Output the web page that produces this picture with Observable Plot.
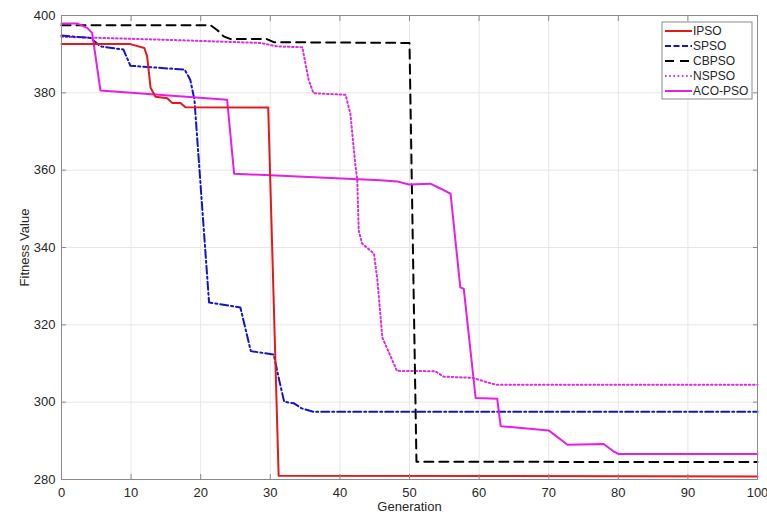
<!DOCTYPE html>
<html>
<head>
<meta charset="utf-8">
<script src="https://cdn.jsdelivr.net/npm/d3@7"></script>
<script src="https://cdn.jsdelivr.net/npm/@observablehq/plot@0.6"></script>
<style>
  html, body { margin: 0; padding: 0; background: #fff; }
  #chart { position: relative; width: 767px; height: 519px; }
</style>
</head>
<body>
<div id="chart"></div>
<script>
// ---- data ----
const seriesNames = ["IPSO", "SPSO", "CBPSO", "NSPSO", "ACO-PSO"];
const xTicks = [0, 10, 20, 30, 40, 50, 60, 70, 80, 90, 100];
const yTicks = [280, 300, 320, 340, 360, 380, 400];

const ipsoGen = [0, 9.9, 11.9, 12.3, 12.8, 13.5, 15.2, 15.9, 17.1, 17.8, 29.7, 31.2, 100];
const ipsoFit = [392.6, 392.6, 391.6, 389.5, 381.3, 379.0, 378.6, 377.4, 377.4, 376.3, 376.2, 281.0, 280.8];

const spsoGen = [0, 4.2, 5.6, 8.9, 9.9, 17.7, 18.5, 19.1, 21.2, 25.7, 27.2, 30.5, 31.3, 32.0, 33.4, 34.5, 36.2, 100];
const spsoFit = [394.8, 394.2, 392.0, 391.2, 387.0, 386.0, 383.4, 378.2, 325.8, 324.5, 313.2, 312.3, 305.5, 300.1, 299.7, 298.4, 297.5, 297.5];

const cbpsoGen = [0, 21.4, 22.4, 23.3, 24.3, 29.5, 30.5, 50.0, 51.0, 100];
const cbpsoFit = [397.5, 397.5, 396.2, 394.6, 393.9, 393.9, 393.1, 392.9, 284.6, 284.5];

const nspsoGen = [0, 17.1, 28.6, 31.0, 34.6, 35.5, 36.2, 40.8, 41.5, 42.2, 42.5, 42.7, 43.2, 44.9, 45.4, 46.1, 48.2, 53.7, 54.9, 59.0, 62.4, 100];
const nspsoFit = [394.5, 393.6, 392.9, 392.0, 391.8, 383.4, 379.9, 379.5, 374.7, 361.7, 357.4, 344.4, 341.0, 338.4, 331.4, 316.7, 308.1, 308.0, 306.6, 306.3, 304.5, 304.5];

const acoGen = [0, 2.3, 3.7, 4.4, 5.6, 23.8, 24.8, 45.8, 48.2, 49.9, 53.0, 54.5, 55.9, 57.3, 57.8, 59.5, 62.6, 63.1, 70.0, 72.7, 77.9, 79.3, 80, 100];
const acoFit = [397.9, 397.9, 396.8, 395.5, 380.6, 378.2, 359.1, 357.4, 357.1, 356.3, 356.5, 355.2, 353.9, 329.7, 329.3, 301.1, 300.9, 293.8, 292.7, 289.0, 289.2, 287.3, 286.6, 286.6];

// ---- styles ----
const styles = {
  "IPSO":    {stroke: "#e3191c", dash: null, width: 2},
  "SPSO":    {stroke: "#1414c8", dash: "8,3,2,3", width: 2},
  "CBPSO":   {stroke: "#000000", dash: "9,6", width: 2},
  "NSPSO":   {stroke: "#dc2edc", dash: "1.6,2.6", width: 2},
  "ACO-PSO": {stroke: "#e61ee6", dash: null, width: 2}
};

const seriesData = {
  "IPSO": ipsoGen.map((g, i) => ({gen: g, fit: ipsoFit[i]})),
  "SPSO": spsoGen.map((g, i) => ({gen: g, fit: spsoFit[i]})),
  "CBPSO": cbpsoGen.map((g, i) => ({gen: g, fit: cbpsoFit[i]})),
  "NSPSO": nspsoGen.map((g, i) => ({gen: g, fit: nspsoFit[i]})),
  "ACO-PSO": acoGen.map((g, i) => ({gen: g, fit: acoFit[i]}))
};

const drawOrder = ["NSPSO", "CBPSO", "SPSO", "ACO-PSO", "IPSO"];
const lineMarks = drawOrder.map(name => Plot.line(seriesData[name], {
  x: "gen", y: "fit",
  stroke: styles[name].stroke,
  strokeWidth: styles[name].width,
  strokeDasharray: styles[name].dash,
  strokeLinejoin: "round"
}));

const W = 767, H = 519;
const mL = 61, mR = 10, mT = 15, mB = 40;

const chart = Plot.plot({
  width: W, height: H,
  marginLeft: mL, marginRight: mR, marginTop: mT, marginBottom: mB,
  style: {fontFamily: "'Liberation Sans', Arial, sans-serif", fontSize: "13px", color: "#262626", background: "#fff"},
  x: {domain: [0, 100]},
  y: {domain: [280, 400]},
  marks: [
    Plot.gridX(xTicks, {stroke: "#e6e6e6", strokeOpacity: 1}),
    Plot.gridY(yTicks, {stroke: "#e6e6e6", strokeOpacity: 1}),
    ...lineMarks,
    Plot.frame({stroke: "#8a8a8a", strokeWidth: 1}),
    Plot.axisX(xTicks, {anchor: "bottom", tickSize: -5, tickPadding: 13, stroke: "#8a8a8a",
      label: "Generation", labelAnchor: "center", labelOffset: 31, labelArrow: "none", fontSize: 13}),
    Plot.axisX(xTicks, {anchor: "top", tickSize: -5, tickFormat: () => "", label: null, stroke: "#8a8a8a"}),
    Plot.axisY(yTicks, {anchor: "left", tickSize: -5, tickPadding: 11, stroke: "#8a8a8a",
      label: "Fitness Value", labelAnchor: "center", labelOffset: 42, labelArrow: "none", fontSize: 13}),
    Plot.axisY(yTicks, {anchor: "right", tickSize: -5, tickFormat: () => "", label: null, stroke: "#8a8a8a"})
  ]
});

document.getElementById("chart").appendChild(chart);

// ---- legend (inside the axes, top right) ----
const svg = d3.select(chart);
const lgX = 662, lgY = 22, lgW = 90, lgH = 77, rowH = 15;
const lg = svg.append("g").attr("class", "legend").attr("text-anchor", "start");
lg.append("rect").attr("x", lgX).attr("y", lgY).attr("width", lgW).attr("height", lgH)
  .attr("fill", "#fff").attr("stroke", "#8a8a8a").attr("stroke-width", 1);
seriesNames.forEach((name, i) => {
  const cy = lgY + 9 + i * rowH;
  const s = styles[name];
  lg.append("line").attr("x1", lgX + 3).attr("x2", lgX + 30).attr("y1", cy).attr("y2", cy)
    .attr("stroke", s.stroke).attr("stroke-width", s.width)
    .attr("stroke-dasharray", name === "CBPSO" ? "9,6" : (name === "SPSO" ? "6,2.5" : s.dash));
  lg.append("text").attr("x", lgX + 31).attr("y", cy).attr("dy", "0.35em")
    .attr("text-anchor", "start")
    .attr("font-family", "'Liberation Sans', Arial, sans-serif").attr("font-size", 12)
    .attr("fill", "#262626").text(name);
});
</script>
</body>
</html>
